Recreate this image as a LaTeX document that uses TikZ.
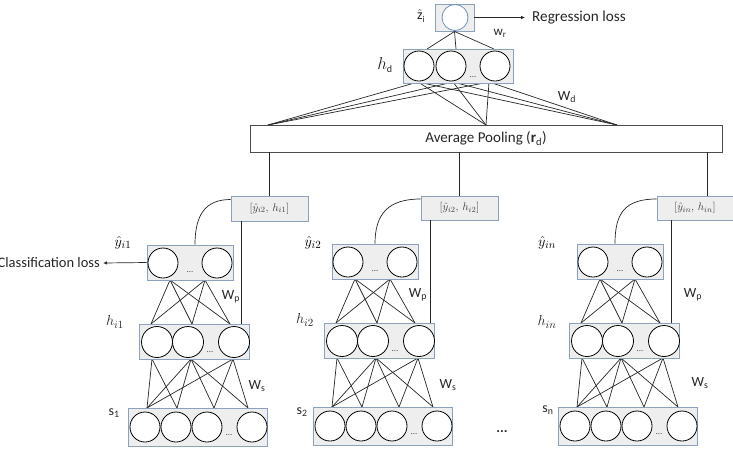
\documentclass[tikz,border=0pt]{standalone}
\usepackage{fontspec}
\setmainfont{Carlito}
\usetikzlibrary{arrows.meta}
\definecolor{boxgray}{RGB}{238,238,238}
\definecolor{boxblue}{RGB}{140,162,188}
\definecolor{zblue}{RGB}{110,145,190}
\tikzset{
 lay/.style={draw=boxblue, fill=boxgray, line width=0.9pt, rectangle, inner sep=0pt},
 neur/.style={circle, draw=black, fill=white, line width=0.8pt, minimum size=30pt, inner sep=0pt},
 conn/.style={draw=black!85, line width=0.7pt},
 dotsn/.style={font=\fontsize{9}{9}\selectfont, inner sep=0pt, text=black!70},
 lbl/.style={font=\fontsize{14}{14}\selectfont, inner sep=0pt, text=black!85},
 catl/.style={lay, font=\fontsize{11}{11}\selectfont, text=black!75},
 arr/.style={conn, -{Latex[length=4pt,width=3.5pt]}},
}
\newcommand\netcol{%
 \coordinate (yb1) at (42,279); \coordinate (yb2) at (77,279);
 \coordinate (ht1) at (23,323); \coordinate (ht2) at (64,323); \coordinate (ht3) at (102,323);
 \coordinate (hb1) at (24,358); \coordinate (hb2) at (63,358); \coordinate (hb3) at (105,358);
 \coordinate (st1) at (19,407); \coordinate (st2) at (49,407); \coordinate (st3) at (86,407); \coordinate (st4) at (120,407);
 \foreach \a in {1,2}{\foreach \b in {1,2,3}{\draw[conn] (yb\a) -- (ht\b);}}
 \draw[conn] (hb1) -- (st1);
 \draw[conn] (hb1) -- (st2);
 \foreach \b in {1,2,3,4}{\draw[conn] (hb2) -- (st\b);}
 \draw[conn] (hb3) -- (st1);
 \draw[conn] (hb3) -- (st3);
 \draw[conn] (hb3) -- (st4);
 \node[lay, minimum width=86pt, minimum height=35pt] (ybox) at (62,261.5) {};
 \node[neur] (yn1) at (35,262) {};
 \node[neur] (yn2) at (89,262) {};
 \node[dotsn] (ydots) at (62,271) {...};
 \node[lay, minimum width=110pt, minimum height=35pt] (hbox) at (66,340.5) {};
 \node[neur, minimum size=31pt] (hn1) at (29,341) {};
 \node[neur, minimum size=31pt] (hn2) at (60,341) {};
 \node[neur, minimum size=31pt] (hn3) at (106,341) {};
 \node[dotsn] (hdots) at (82,351) {...};
 \node[lay, minimum width=139pt, minimum height=38pt] (sbox) at (69.5,426) {};
 \node[neur] (sn1) at (17,426) {};
 \node[neur] (sn2) at (48,426) {};
 \node[neur] (sn3) at (79,426) {};
 \node[neur] (sn4) at (124,426) {};
 \node[dotsn] (sdots) at (101,434) {...};
}
\begin{document}
\begin{tikzpicture}[x=1pt,y=-1pt]
\useasboundingbox (0,0) rectangle (733,448);
% columns
\begin{scope}[xshift=128pt, yshift=-1pt, name prefix=c1-]\netcol\end{scope}
\begin{scope}[xshift=313pt, name prefix=c2-]\netcol\end{scope}
\begin{scope}[xshift=558pt, name prefix=c3-]\netcol\end{scope}

% top part
\node[lay, minimum width=39pt, minimum height=27pt] (zbox) at (454.5,17.5) {};
\node[neur, draw=zblue, minimum size=26pt] (zn) at (455,17.5) {};
\node[lbl] (zlab) at (421,16) {$\hat{\hbox{z}}$\raisebox{-0.5ex}{\fontsize{9}{9}\selectfont i}};
\coordinate (regend) at (525,17.5);
\draw[arr] (zbox.east) -- (regend);
\node[lbl, anchor=west, font=\fontsize{15.2}{15}\selectfont] (regl) at (532,17.5) {Regression loss};
\node[lbl, font=\fontsize{13}{13}\selectfont] (wr) at (500,33) {w\textsubscript{r}};

\coordinate (hdt1) at (427,49); \coordinate (hdt2) at (456,49); \coordinate (hdt3) at (494,49);
\foreach \b in {1,2,3}{\draw[conn] (zbox.south) -- (hdt\b);}

\coordinate (hdb1) at (418,82); \coordinate (hdb2) at (453,82); \coordinate (hdb3) at (489,82);
\coordinate (pt1) at (268,125); \coordinate (pt2) at (486,125); \coordinate (pt3) at (617,125);
\foreach \a in {1,2,3}{\foreach \b in {1,2,3}{\draw[conn] (hdb\a) -- (pt\b);}}

\node[lay, minimum width=110pt, minimum height=34pt] (hdbox) at (458,66) {};
\node[neur] (hd1) at (419,66) {};
\node[neur] (hd2) at (451,66) {};
\node[neur] (hd3) at (495,66) {};
\node[dotsn] (hddots) at (473,77) {...};
\node[lbl, font=\fontsize{16}{16}\selectfont] (hdlab) at (385,65) {$h_{\hbox{\fontsize{10}{10}\selectfont d}}$};
\node[lbl] (wd) at (567,97) {W\textsubscript{d}};

\node[draw=black!70, fill=white, line width=0.8pt, minimum width=472pt, minimum height=27pt, inner sep=0pt, font=\fontsize{15}{15}\selectfont, text=black!85] (pool) at (486,138.5) {Average Pooling (\textbf{r}\textsubscript{d})};

% concat boxes
\node[catl, minimum width=77pt, minimum height=25pt] (cat1) at (269.5,208.5) {$[\hat{y}_{i2},\, h_{i1}]$};
\node[catl, minimum width=77pt, minimum height=24pt] (cat2) at (459.5,208) {$[\hat{y}_{i2},\, h_{i2}]$};
\node[catl, minimum width=76pt, minimum height=24pt] (cat3) at (695,208) {$[\hat{y}_{in},\, h_{in}]$};

\draw[conn] (pool.south -| cat1.north) -- (cat1.north);
\draw[conn] (pool.south -| cat2.north) -- (cat2.north);
\draw[conn] ([xshift=12pt]pool.south -| cat3.north) -- ([xshift=12pt]cat3.north);

\draw[conn] ([yshift=9pt]cat1.west) .. controls +(-25,0) and +(0,-30) .. ([xshift=5pt]c1-ybox.north);
\draw[conn] ([yshift=9pt]cat2.west) .. controls +(-32,0) and +(0,-30) .. (c2-ybox.north);
\draw[conn] ([yshift=9pt]cat3.west) .. controls +(-32,0) and +(0,-30) .. ([xshift=-5pt]c3-ybox.north);

\draw[conn] ([xshift=-28.5pt]cat1.south) -- ([xshift=-28.5pt]cat1.south |- c1-hbox.north);
\draw[conn] ([xshift=-29.5pt]cat2.south) -- ([xshift=-29.5pt]cat2.south |- c2-hbox.north);
\draw[conn] ([xshift=-24pt]cat3.south) -- ([xshift=-24pt]cat3.south |- c3-hbox.north);

% classification loss
\coordinate (clend) at (103,263);
\draw[arr] (c1-ybox.west) -- (clend);
\node[lbl, anchor=east, font=\fontsize{14.5}{15}\selectfont] (cll) at (100,263) {Classification loss};

% labels
\node[lbl, font=\fontsize{15}{15}\selectfont, text=black] (ly1) at (123,243) {$\hat{y}_{i1}$};
\node[lbl, font=\fontsize{15}{15}\selectfont, text=black] (ly2) at (313,243) {$\hat{y}_{i2}$};
\node[lbl, font=\fontsize{15}{15}\selectfont, text=black] (ly3) at (547,243) {$\hat{y}_{in}$};
\node[lbl, font=\fontsize{15}{15}\selectfont] (lh1) at (115,322) {$h_{i1}$};
\node[lbl, font=\fontsize{15}{15}\selectfont] (lh2) at (305,320) {$h_{i2}$};
\node[lbl, font=\fontsize{15}{15}\selectfont] (lh3) at (547,322) {$h_{in}$};
\node[lbl] (ls1) at (114,413) {s\textsubscript{1}};
\node[lbl] (ls2) at (302,412) {s\textsubscript{2}};
\node[lbl] (ls3) at (548,410) {s\textsubscript{n}};
\node[lbl] (wp1) at (231,297) {W\textsubscript{p}};
\node[lbl] (wp2) at (418,295) {W\textsubscript{p}};
\node[lbl] (wp3) at (693,295) {W\textsubscript{p}};
\node[lbl] (ws1) at (257,386) {W\textsubscript{s}};
\node[lbl] (ws2) at (448,385) {W\textsubscript{s}};
\node[lbl] (ws3) at (700,383) {W\textsubscript{s}};
\node[lbl, font=\bfseries\fontsize{14}{14}\selectfont] (moredots) at (502,432) {...};
\end{tikzpicture}
\end{document}
